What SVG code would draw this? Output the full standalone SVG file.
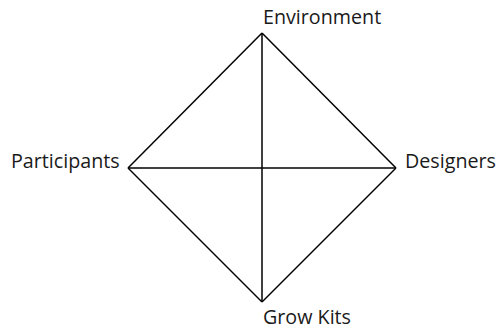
<svg xmlns="http://www.w3.org/2000/svg" width="498" height="329" viewBox="0 0 498 329">
<style>
.e{stroke:#000;stroke-width:1.5;fill:none}
.t{font-family:"Open Sans","Liberation Sans",sans-serif;font-size:19.7px;fill:#1a1a1a}
</style>
<rect width="498" height="329" fill="#fff"/>
<g id="connectors">
<line class="e" x1="262" y1="33" x2="128" y2="168"/>
<line class="e" x1="262" y1="33" x2="396" y2="168"/>
<line class="e" x1="128" y1="168" x2="262" y2="302"/>
<line class="e" x1="396" y1="168" x2="262" y2="302"/>
<line class="e" x1="262" y1="33" x2="262" y2="302"/>
<line class="e" x1="128" y1="168" x2="396" y2="168"/>
</g>
<g id="environment"><text class="t" x="263" y="24">Environment</text></g>
<g id="participants"><text class="t" x="11" y="168">Participants</text></g>
<g id="designers"><text class="t" x="405" y="168">Designers</text></g>
<g id="growkits"><text class="t" x="263" y="323.5">Grow Kits</text></g>
</svg>
